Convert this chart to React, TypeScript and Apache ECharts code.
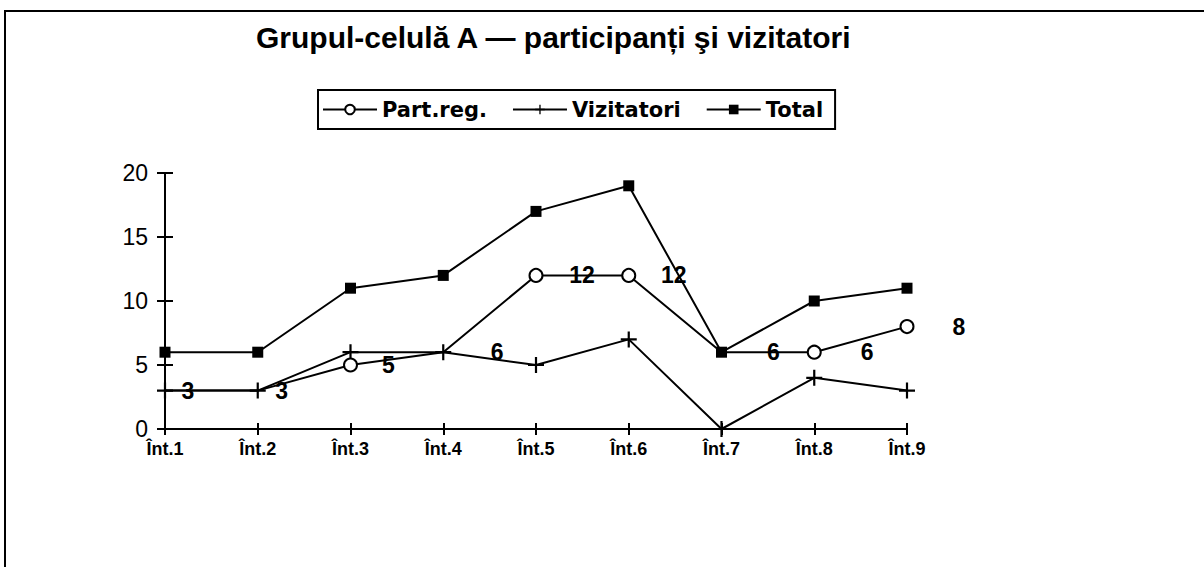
import React, { useEffect, useRef } from "react";
import * as echarts from "echarts";

const categories = ["Înt.1", "Înt.2", "Înt.3", "Înt.4", "Înt.5", "Înt.6", "Înt.7", "Înt.8", "Înt.9"];
const partReg = [3, 3, 5, 6, 12, 12, 6, 6, 8];
const vizitatori = [3, 3, 6, 6, 5, 7, 0, 4, 3];
const total = [6, 6, 11, 12, 17, 19, 6, 10, 11];
const seriesNames = ["Part.reg.", "Vizitatori", "Total"];
const titleText = "Grupul-celulă A — participanți şi vizitatori";
const yMin = 0;
const yMax = 20;
const yInterval = 5;

// styling: horizontal label shifts and markers hidden under other markers
const labelDx = [23, 24, 38, 54, 46, 45, 52, 53, 52];
const hiddenCircle = [0, 1, 3, 6];

const PLUS = "path://M6.9,0H9.1V6.9H16V9.1H9.1V16H6.9V9.1H0V6.9H6.9Z";
const FONT = "'Liberation Sans', Arial, sans-serif";

export default function App() {
  const ref = useRef<HTMLDivElement>(null);
  useEffect(() => {
    if (!ref.current) return;
    const chart = echarts.init(ref.current, undefined, { renderer: "svg" });
    const partData = partReg.map((v, i) =>
      hiddenCircle.includes(i)
        ? {
            value: v,
            symbol: "circle",
            itemStyle: { color: "rgba(0,0,0,0)", borderColor: "rgba(0,0,0,0)", borderWidth: 0 },
            label: { offset: [labelDx[i], 0] },
          }
        : { value: v, label: { offset: [labelDx[i], 0] } }
    );
    const baseX = {
      type: "category" as const,
      data: categories,
      boundaryGap: false,
      position: "bottom" as const,
    };
    const baseY = {
      type: "value" as const,
      min: yMin,
      max: yMax,
      interval: yInterval,
      position: "left" as const,
      splitLine: { show: false },
    };
    chart.setOption({
      animation: false,
      backgroundColor: "#fff",
      textStyle: { fontFamily: FONT, color: "#000" },
      title: {
        text: titleText,
        left: 256,
        top: 22,
        padding: 0,
        textStyle: { fontFamily: FONT, fontWeight: "bold", fontSize: 30, color: "#000" },
      },
      legend: {
        data: seriesNames,
        left: 318,
        top: 90,
        orient: "horizontal",
        borderColor: "#000",
        borderWidth: 2,
        padding: [9, 12, 9, 4],
        itemWidth: 54,
        itemHeight: 12,
        itemGap: 25,
        textStyle: { fontFamily: "'DejaVu Sans', sans-serif", fontWeight: "bold", fontSize: 21, color: "#000" },
      },
      graphic: [
        {
          type: "rect",
          shape: { x: 5, y: 11, width: 1400, height: 800 },
          style: { fill: "none", stroke: "#000", lineWidth: 2 },
          silent: true,
          z: -1,
        },
      ],
      grid: { left: 165, right: 297, top: 173, bottom: 138, containLabel: false },
      xAxis: [
        {
          ...baseX,
          axisLine: { onZero: false, lineStyle: { color: "#000", width: 2 } },
          axisTick: { show: true, inside: false, length: 6, lineStyle: { color: "#000", width: 2 } },
          axisLabel: { fontFamily: FONT, fontWeight: "bold", fontSize: 18, color: "#000", margin: 11 },
        },
        {
          ...baseX,
          axisLine: { show: false, onZero: false },
          axisTick: { show: true, inside: true, length: 6, lineStyle: { color: "#000", width: 2 } },
          axisLabel: { show: false },
        },
      ],
      yAxis: [
        {
          ...baseY,
          axisLine: { show: true, onZero: false, lineStyle: { color: "#000", width: 2 } },
          axisTick: { show: true, inside: false, length: 8, lineStyle: { color: "#000", width: 2 } },
          axisLabel: { fontFamily: FONT, fontSize: 23, color: "#000", margin: 17 },
        },
        {
          ...baseY,
          axisLine: { show: false, onZero: false },
          axisTick: { show: true, inside: true, length: 8, lineStyle: { color: "#000", width: 2 } },
          axisLabel: { show: false },
        },
      ],
      series: [
        {
          name: seriesNames[0],
          type: "line",
          data: partData,
          symbol: "emptyCircle",
          symbolSize: 13,
          lineStyle: { color: "#000", width: 2 },
          itemStyle: { color: "#000", borderWidth: 2 },
          z: 3,
          label: {
            show: true,
            position: "inside",
            fontFamily: FONT,
            fontWeight: "bold",
            fontSize: 23,
            color: "#000",
          },
        },
        {
          name: seriesNames[1],
          type: "line",
          data: vizitatori,
          symbol: PLUS,
          symbolSize: 16,
          lineStyle: { color: "#000", width: 2 },
          itemStyle: { color: "#000" },
          z: 2,
        },
        {
          name: seriesNames[2],
          type: "line",
          data: total,
          symbol: "rect",
          symbolSize: 11,
          lineStyle: { color: "#000", width: 2 },
          itemStyle: { color: "#000" },
          z: 4,
        },
      ],
    });
    return () => chart.dispose();
  }, []);
  return <div ref={ref} style={{ position: "fixed", left: 0, top: 0, width: 1204, height: 567 }} />;
}
